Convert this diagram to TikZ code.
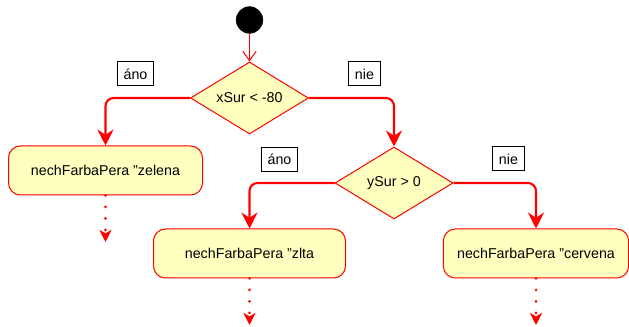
\documentclass[tikz,border=0pt]{standalone}
\usepackage{fontspec}
\setmainfont{Liberation Sans}
\usetikzlibrary{shapes.geometric,arrows.meta}
\definecolor{fillyel}{HTML}{FFFFC0}
\definecolor{lred}{HTML}{FF0000}
\begin{document}
\begin{tikzpicture}[x=0.75pt,y=-0.75pt,
  every node/.style={font=\fontsize{10.7}{12}\selectfont},
  startnode/.style={circle,fill=black,draw=black,minimum size=20pt,inner sep=0pt},
  decision/.style={diamond,draw=lred,fill=fillyel,line width=0.75pt,aspect=1.64,
    minimum width=88.5pt,minimum height=54pt,inner sep=0pt},
  actbox/.style={rectangle,rounded corners=9pt,draw=lred,fill=fillyel,line width=0.75pt,
    minimum height=36.75pt,inner sep=0pt},
  lbl/.style={rectangle,draw=black,fill=white,line width=0.75pt,inner xsep=4.5pt,
    inner ysep=0pt,minimum height=18pt},
  conn/.style={draw=lred,line width=1.6pt,rounded corners=6pt,
    -{Stealth[length=12pt,width=12pt,inset=4pt]}},
  dotarr/.style={draw=lred,line width=2.2pt,line cap=round,dash pattern=on 0pt off 8.6pt,
    -{Stealth[length=9pt,width=9pt,inset=2.5pt]}},
  thinarr/.style={draw=lred,line width=0.75pt,-{Straight Barb[length=7pt,width=10pt]}}
]
\useasboundingbox (0,0) rectangle (629,327);

\node[startnode] (s) at (249.5,20) {};
\node[decision] (d1) at (249.5,98) {xSur < -80};
\node[decision] (d2) at (394,183) {ySur > 0};
\node[actbox,minimum width=145.5pt] (b1) at (105.5,170.5) {nechFarbaPera \symbol{34}zelena};
\node[actbox,minimum width=144pt] (b2) at (249.5,253.5) {nechFarbaPera \symbol{34}zlta};
\node[actbox,minimum width=139pt] (b3) at (536,253.5) {nechFarbaPera \symbol{34}cervena};

\node[lbl] (l1) at (135.5,74) {áno};
\node[lbl] (l2) at (364.5,74) {nie};
\node[lbl] (l3) at (279.5,159.5) {áno};
\node[lbl] (l4) at (508.5,159) {nie};

\coordinate (t1) at (105.5,242);
\coordinate (t2) at (249.5,325);
\coordinate (t3) at (536,325);

\draw[thinarr] (s.south) -- (d1.north);
\draw[conn] (d1.west) -| (b1.north);
\draw[conn] (d1.east) -| (d2.north);
\draw[conn] (d2.west) -| (b2.north);
\draw[conn] (d2.east) -| (b3.north);

\draw[dotarr] (b1.south) -- (t1);
\draw[dotarr] (b2.south) -- (t2);
\draw[dotarr] (b3.south) -- (t3);
\end{tikzpicture}
\end{document}
